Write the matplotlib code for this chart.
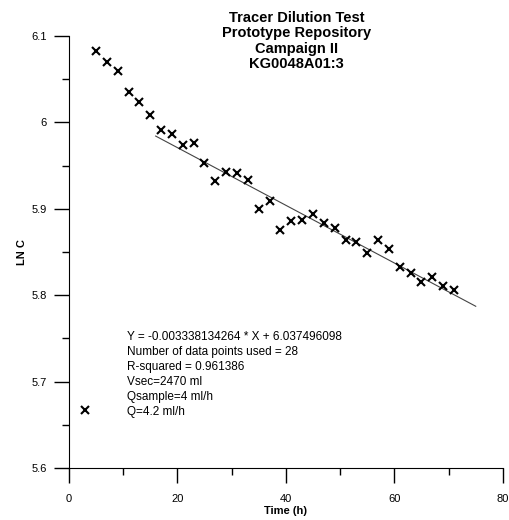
import matplotlib
matplotlib.use('Agg')
import matplotlib.pyplot as plt
from matplotlib.ticker import MultipleLocator

plt.rcParams['font.family'] = ['Liberation Sans', 'DejaVu Sans']

# Measured points (time in h, ln of concentration)
time_h = [3, 5, 7, 9, 11, 13, 15, 17, 19, 21, 23, 25, 27, 29, 31, 33, 35, 37,
          39, 41, 43, 45, 47, 49, 51, 53, 55, 57, 59, 61, 63, 65, 67, 69, 71]
ln_c = [5.667, 6.082, 6.070, 6.059, 6.035, 6.023, 6.009, 5.991, 5.987, 5.974,
        5.976, 5.953, 5.932, 5.943, 5.941, 5.933, 5.900, 5.909, 5.875, 5.886,
        5.887, 5.894, 5.883, 5.878, 5.864, 5.861, 5.849, 5.864, 5.853, 5.832,
        5.826, 5.815, 5.821, 5.811, 5.806]

# Regression line
slope = -0.003338134264
intercept = 6.037496098
fit_x = [16, 75]
fit_y = [slope * x + intercept for x in fit_x]

y_ticks = [5.6, 5.7, 5.8, 5.9, 6.0, 6.1]
y_tick_labels = ['5.6', '5.7', '5.8', '5.9', '6', '6.1']

info_lines = [
    'Y = -0.003338134264 * X + 6.037496098',
    'Number of data points used = 28',
    'R-squared = 0.961386',
    'Vsec=2470 ml',
    'Qsample=4 ml/h',
    'Q=4.2 ml/h',
]

fig = plt.figure(figsize=(5.1, 5.2), dpi=100)
ax = fig.add_axes([0.135, 0.1, 0.851, 0.831])

ax.plot(fit_x, fit_y, color='#444444', linewidth=0.8)
ax.plot(time_h, ln_c, linestyle='none', marker='x', color='black',
        markersize=6, markeredgewidth=1.5)

ax.set_xlim(0, 80)
ax.set_ylim(5.6, 6.1)
ax.xaxis.set_major_locator(MultipleLocator(20))
ax.xaxis.set_minor_locator(MultipleLocator(10))
ax.yaxis.set_minor_locator(MultipleLocator(0.05))
ax.set_yticks(y_ticks)
ax.set_yticklabels(y_tick_labels)

ax.tick_params(which='major', length=11, width=1, labelsize=8)
ax.tick_params(which='minor', length=5, width=1)
ax.tick_params(axis='x', which='major', pad=7.5)
ax.tick_params(axis='y', which='major', pad=5)
ax.spines['top'].set_visible(False)
ax.spines['right'].set_visible(False)

ax.set_xlabel('Time (h)', fontsize=8, fontweight='bold', labelpad=1.5)
ax.set_ylabel('LN C', fontsize=8, fontweight='bold', labelpad=3)

fig.text(0.582, 0.979, 'Tracer Dilution Test\nPrototype Repository\nCampaign II\nKG0048A01:3',
         ha='center', va='top', fontsize=10.5, fontweight='bold', linespacing=1.12)

ax.text(10.7, 5.759, '\n'.join(info_lines), fontsize=8.5, va='top', ha='left',
        linespacing=1.34)

fig.savefig('out.png', dpi=100)
